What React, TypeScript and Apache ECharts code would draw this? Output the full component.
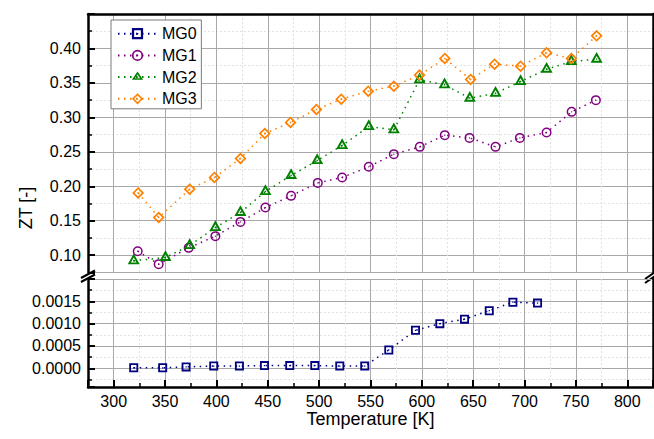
import React, { useEffect, useRef } from "react";
import * as echarts from "echarts";

// ---- data ----
const mg0Temp = [319.5, 347.7, 370.5, 397.4, 422.4, 446.8, 471.4, 495.8, 520.1, 544.4, 567.8, 593.8, 617.5, 641.5, 665.6, 688.6, 712.6];
const mg0ZT = [0.00001, 0.00001, 0.00003, 0.00005, 0.00005, 0.00006, 0.00006, 0.00006, 0.00005, 0.00005, 0.00041, 0.00085, 0.001, 0.0011, 0.00129, 0.00148, 0.00146];

const mg1Temp = [323.4, 343.8, 373.0, 399.0, 423.4, 447.7, 472.7, 498.7, 522.4, 548.3, 572.7, 598.0, 622.3, 646.4, 671.7, 695.4, 721.4, 745.8, 769.4];
const mg1ZT = [0.1058, 0.087, 0.1106, 0.1276, 0.1483, 0.1692, 0.1861, 0.2049, 0.2128, 0.2282, 0.2466, 0.2572, 0.2742, 0.2702, 0.2572, 0.2702, 0.2781, 0.308, 0.325];

const mg2Temp = [319.5, 350.4, 374.0, 399.0, 423.4, 447.7, 472.7, 498.1, 522.4, 548.3, 572.7, 597.7, 622.1, 646.7, 671.7, 696.1, 721.4, 745.5, 770.1];
const mg2ZT = [0.0918, 0.0966, 0.114, 0.1401, 0.1619, 0.1923, 0.2156, 0.2373, 0.2591, 0.2867, 0.2819, 0.3545, 0.3472, 0.3278, 0.335, 0.352, 0.3698, 0.381, 0.3844];

const mg3Temp = [323.8, 343.8, 374.0, 398.1, 423.4, 447.1, 472.1, 497.4, 521.5, 547.8, 572.7, 597.7, 622.4, 647.4, 670.8, 696.1, 721.4, 745.5, 770.1];
const mg3ZT = [0.1904, 0.1547, 0.1958, 0.2128, 0.2403, 0.2766, 0.2926, 0.3115, 0.3264, 0.338, 0.3453, 0.3613, 0.3855, 0.355, 0.3772, 0.3743, 0.3936, 0.3855, 0.4183];

const seriesNames = ["MG0", "MG1", "MG2", "MG3"];
const xTitle = "Temperature [K]";
const yTitle = "ZT [-]";

// ---- symbols (hollow with centre dot) ----
const SQUARE = "path://M0 0L10 0L10 10L0 10ZM2 2L2 8L8 8L8 2ZM4.3 4.3L5.7 4.3L5.7 5.7L4.3 5.7Z";
const CIRCLE = "path://M0 5A5 5 0 1 1 10 5A5 5 0 1 1 0 5ZM1.5 5A3.5 3.5 0 1 0 8.5 5A3.5 3.5 0 1 0 1.5 5ZM4.3 5A0.7 0.7 0 1 1 5.7 5A0.7 0.7 0 1 1 4.3 5Z";
const TRIANGLE = "path://M5 0L10 9L0 9ZM5 3.3L2.7 7.4L7.3 7.4ZM4.4 5.4L5.6 5.4L5.6 6.6L4.4 6.6ZM5 12.12";
const DIAMOND = "path://M5 0L10 5L5 10L0 5ZM5 2L2 5L5 8L8 5ZM4.4 4.4L5.6 4.4L5.6 5.6L4.4 5.6Z";

const FONT = 'Arial, "Liberation Sans", sans-serif';
const X_MIN = 275;
const X_MAX = 825;

const majorSplit = { show: true, lineStyle: { color: "#a8a8a8", width: 1 } };
const minorSplit = { show: true, lineStyle: { color: "#e2e2e2", width: 1, type: [2, 2] } };
const frameLine = { show: true, onZero: false, lineStyle: { color: "#000", width: 2.5 } };

function mkSeries(name: string, temps: number[], vals: number[], color: string, symbol: string, size: any, gi: number) {
  return {
    name,
    type: "line",
    xAxisIndex: gi,
    yAxisIndex: gi,
    data: temps.map((t, i) => [t, vals[i]]),
    symbol,
    symbolSize: size,
    itemStyle: { color },
    lineStyle: { color, width: 1.5, type: [1.5, 4.5] },
    emphasis: { disabled: true },
    z: 3,
  };
}

export default function App() {
  const ref = useRef<HTMLDivElement>(null);
  useEffect(() => {
    if (!ref.current) return;
    const chart = echarts.init(ref.current, undefined, { renderer: "svg" });
    const option: any = {
      animation: false,
      backgroundColor: "#fff",
      textStyle: { fontFamily: FONT },
      grid: [
        { left: 88, right: 1, top: 14, height: 258.4 },
        { left: 88, right: 1, top: 279, height: 108 },
      ],
      legend: {
        data: seriesNames,
        orient: "vertical",
        left: 111,
        top: 20,
        padding: [5.7, 4.7, 2, 6],
        itemWidth: 39,
        itemHeight: 14,
        itemGap: 5.7,
        borderColor: "#7a7a7a",
        borderWidth: 1,
        backgroundColor: "#fff",
        textStyle: { fontSize: 16, color: "#000", fontFamily: FONT },
        z: 10,
      },
      xAxis: [
        {
          gridIndex: 0, type: "value", min: X_MIN, max: X_MAX, splitNumber: 11,
          axisLine: { show: false, onZero: false }, axisTick: { show: false }, axisLabel: { show: false },
          minorTick: { show: false, splitNumber: 2 },
          splitLine: majorSplit, minorSplitLine: minorSplit,
        },
        {
          gridIndex: 1, type: "value", min: X_MIN, max: X_MAX, splitNumber: 11, position: "bottom",
          axisLine: frameLine,
          axisTick: { show: true, inside: true, length: 7, lineStyle: { color: "#000", width: 2 } },
          minorTick: { show: true, splitNumber: 2, length: 4, lineStyle: { color: "#000", width: 1.5 } },
          axisLabel: { show: true, fontSize: 16, color: "#000", margin: 6, showMinLabel: false, showMaxLabel: false, fontFamily: FONT },
          splitLine: majorSplit, minorSplitLine: minorSplit,
          name: xTitle, nameLocation: "middle", nameGap: 23,
          nameTextStyle: { fontSize: 18, color: "#000", fontFamily: FONT },
        },
        {
          gridIndex: 0, type: "value", min: X_MIN, max: X_MAX, position: "top",
          axisLine: frameLine,
          axisTick: { show: false }, axisLabel: { show: false }, splitLine: { show: false },
        },
      ],
      yAxis: [
        {
          gridIndex: 0, type: "value", min: 0.075, max: 0.45, splitNumber: 7, position: "left",
          axisLine: frameLine,
          axisTick: { show: true, inside: true, length: 7, lineStyle: { color: "#000", width: 2 } },
          minorTick: { show: true, splitNumber: 2, length: 4, lineStyle: { color: "#000", width: 1.5 } },
          axisLabel: {
            show: true, fontSize: 16, color: "#000", margin: 7, fontFamily: FONT,
            showMinLabel: false, showMaxLabel: false,
            formatter: (v: number) => v.toFixed(2),
          },
          splitLine: majorSplit, minorSplitLine: minorSplit,
        },
        {
          gridIndex: 1, type: "value", min: -0.00042, max: 0.002, splitNumber: 5, position: "left",
          axisLine: frameLine,
          axisTick: { show: true, inside: true, length: 7, lineStyle: { color: "#000", width: 2 } },
          minorTick: { show: true, splitNumber: 2, length: 4, lineStyle: { color: "#000", width: 1.5 } },
          axisLabel: {
            show: true, fontSize: 16, color: "#000", margin: 7, fontFamily: FONT,
            showMinLabel: false, showMaxLabel: false,
            formatter: (v: number) => Math.abs(v).toFixed(4),
          },
          splitLine: majorSplit, minorSplitLine: minorSplit,
        },
        {
          gridIndex: 0, type: "value", min: 0.075, max: 0.45, position: "right",
          axisLine: frameLine,
          axisTick: { show: false }, axisLabel: { show: false }, splitLine: { show: false },
        },
        {
          gridIndex: 1, type: "value", min: -0.00042, max: 0.002, position: "right",
          axisLine: frameLine,
          axisTick: { show: false }, axisLabel: { show: false }, splitLine: { show: false },
        },
      ],
      graphic: [
        {
          type: "text", x: 26, y: 208, rotation: Math.PI / 2,
          style: { text: yTitle, fontSize: 18, fill: "#000", fontFamily: FONT, align: "center", verticalAlign: "middle" },
        },
        { type: "line", shape: { x1: 81, y1: 278, x2: 95, y2: 270.5 }, style: { stroke: "#000", lineWidth: 2 } },
        { type: "line", shape: { x1: 81, y1: 282, x2: 95, y2: 274.5 }, style: { stroke: "#000", lineWidth: 2 } },
        { type: "line", shape: { x1: 645, y1: 279, x2: 655, y2: 272 }, style: { stroke: "#000", lineWidth: 2 } },
        { type: "line", shape: { x1: 645, y1: 283, x2: 655, y2: 276 }, style: { stroke: "#000", lineWidth: 2 } },
      ],
      series: [
        mkSeries(seriesNames[0], mg0Temp, mg0ZT, "#000080", SQUARE, 9, 1),
        mkSeries(seriesNames[1], mg1Temp, mg1ZT, "#800080", CIRCLE, 10, 0),
        mkSeries(seriesNames[2], mg2Temp, mg2ZT, "#008000", TRIANGLE, [12, 14.5], 0),
        mkSeries(seriesNames[3], mg3Temp, mg3ZT, "#FF8000", DIAMOND, 12, 0),
      ],
    };
    chart.setOption(option);
    return () => chart.dispose();
  }, []);
  return <div ref={ref} style={{ position: "absolute", left: 0, top: 0, width: 654, height: 439 }} />;
}
